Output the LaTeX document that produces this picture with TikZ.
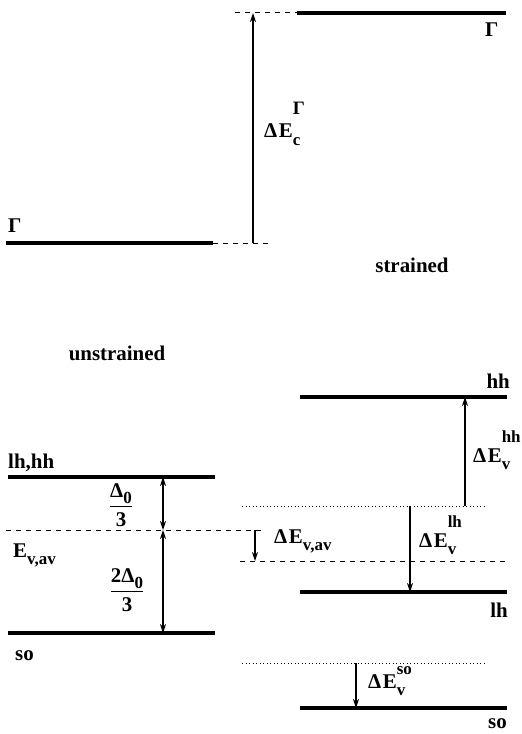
\documentclass[tikz,border=0pt]{standalone}
\usepackage{amsmath}
\usepackage{fontspec}
\setmainfont{Liberation Serif}
\usetikzlibrary{arrows.meta}
\newcommand\scr{\fontsize{17}{17}\selectfont}
\newcommand\dE[3][0.95em]{Δ\kern1.5bp E\rlap{\raisebox{#1}{\scr #2}}\raisebox{-0.38em}{\scr #3}}
\begin{document}
\begin{tikzpicture}[x=1bp,y=-1bp,
  level/.style={line width=4.5bp},
  guide/.style={line width=1bp,dash pattern=on 5bp off 5bp},
  dotguide/.style={line width=1bp,dash pattern=on 1bp off 2.5bp},
  gap/.style={line width=1.2bp,-{Stealth[length=9bp,width=6bp]}},
  gapboth/.style={line width=1.2bp,{Stealth[length=9bp,width=6bp]}-{Stealth[length=9bp,width=6bp]}},
  lbl/.style={inner sep=0pt,font=\fontsize{21}{24}\selectfont\bfseries}]
\path[use as bounding box] (0,0) rectangle (522,734);
% conduction band
\coordinate (gL1) at (6,243);
\coordinate (gL2) at (213,243);
\coordinate (gLd) at (273,243);
\coordinate (gR1) at (297,13);
\coordinate (gR2) at (506,13);
\coordinate (gRd) at (235,13);
\coordinate (cA) at (253,243);
\coordinate (cB) at (253,13);
\draw[level] (gL1) -- (gL2);
\draw[guide] (gL2) -- (gLd);
\draw[level] (gR1) -- (gR2);
\draw[guide] (gRd) -- (gR1);
\draw[gap] (cA) -- (cB);
\node[lbl,anchor=base west] (gTop) at (485,37) {Γ};
\node[lbl,anchor=base west] (gLeft) at (8,232) {Γ};
\node[lbl,anchor=base west] (dEc) at (264,138) {\dE[1.1em]{\fontsize{19}{19}\selectfont Γ}{c}};
\node[lbl,anchor=base] (str) at (412,272) {strained};
\node[lbl,anchor=base] (unstr) at (117,360) {unstrained};
% unstrained valence band
\coordinate (uh1) at (8,477);
\coordinate (uh2) at (215,477);
\coordinate (av1) at (6,530);
\coordinate (av2) at (265,530);
\coordinate (us1) at (8,633);
\coordinate (us2) at (215,633);
\coordinate (dA) at (163,477);
\coordinate (dB) at (163,530);
\coordinate (dC) at (163,633);
\draw[level] (uh1) -- (uh2);
\draw[guide] (av1) -- (av2);
\draw[level] (us1) -- (us2);
\draw[gapboth] (dA) -- (dB);
\draw[gapboth] (dB) -- (dC);
\node[lbl,anchor=base west] (lhhh) at (8,468) {lh,hh};
\node[lbl] (f1) at (121,505) {$\dfrac{\text{Δ\raisebox{-0.3em}{\scr 0}}}{\text{3}}$};
\node[lbl] (f2) at (127,590) {$\dfrac{\text{2Δ\raisebox{-0.3em}{\scr 0}}}{\text{3}}$};
\node[lbl,anchor=base west] (Evav) at (13,557) {E\raisebox{-0.38em}{\scr v,av}};
\node[lbl,anchor=base west] (soL) at (15,660) {so};
% strained valence band
\coordinate (sh1) at (300,397);
\coordinate (sh2) at (507,397);
\coordinate (dt1) at (242,506);
\coordinate (dt2) at (485,506);
\coordinate (sl1) at (300,592);
\coordinate (sl2) at (507,592);
\coordinate (sa1) at (240,561);
\coordinate (sa2) at (508,561);
\coordinate (ds1) at (242,663);
\coordinate (ds2) at (485,663);
\coordinate (ss1) at (300,708);
\coordinate (ss2) at (507,708);
\coordinate (hA) at (465,506);
\coordinate (hB) at (465,397);
\coordinate (lA) at (410,506);
\coordinate (lB) at (410,592);
\coordinate (aA) at (255,530);
\coordinate (aB) at (255,561);
\coordinate (oA) at (356,663);
\coordinate (oB) at (356,708);
\draw[level] (sh1) -- (sh2);
\draw[dotguide] (dt1) -- (dt2);
\draw[level] (sl1) -- (sl2);
\draw[guide] (sa1) -- (sa2);
\draw[dotguide] (ds1) -- (ds2);
\draw[level] (ss1) -- (ss2);
\draw[gap] (hA) -- (hB);
\draw[gap] (lA) -- (lB);
\draw[gap] (aA) -- (aB);
\draw[gap] (oA) -- (oB);
\node[lbl,anchor=base east] (hhR) at (510,388) {hh};
\node[lbl,anchor=base west] (dEhh) at (473,462) {\dE{hh}{v}};
\node[lbl,anchor=base west] (dElh) at (419,547) {\dE{lh}{v}};
\node[lbl,anchor=base west] (dEav) at (274,543) {Δ\kern1.5bp E\raisebox{-0.38em}{\scr v,av}};
\node[lbl,anchor=base east] (lhR) at (508,617) {lh};
\node[lbl,anchor=base west] (dEso) at (368,688) {\dE[0.65em]{so}{v}};
\node[lbl,anchor=base east] (soR) at (507,728) {so};
\end{tikzpicture}
\end{document}
